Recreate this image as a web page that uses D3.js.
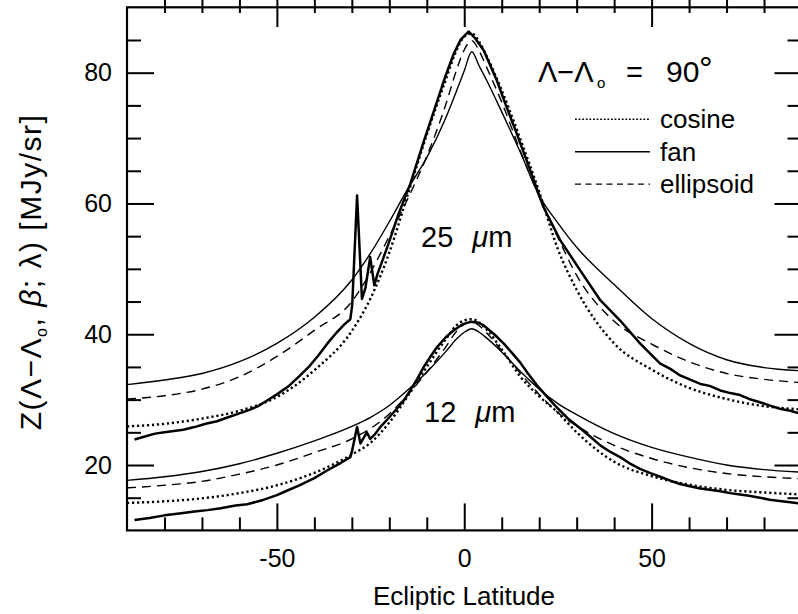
<!DOCTYPE html>
<html>
<head>
<meta charset="utf-8">
<script src="https://cdn.jsdelivr.net/npm/d3@7"></script>
<style>
  body { margin: 0; background: #fff; }
  svg { display: block; }
  text { font-family: "Liberation Sans", Arial, Helvetica, sans-serif; fill: #000; }
</style>
</head>
<body>
<div id="chart"></div>
<script>
// model curves, sampled on a common latitude grid
var latModel = [-90, -80, -70, -60, -50, -40, -30, -25, -20, -15, -10, -5, -2, 0, 2, 4, 6, 10, 15, 20, 25, 30, 40, 50, 60, 70, 80, 90];

var fan25 = [32.3, 33.0, 34.0, 35.8, 38.6, 42.6, 48.3, 52.4, 57.2, 62.3, 67.0, 73.0, 77.3, 80.3, 83.2, 81.0, 78.8, 74.0, 67.8, 61.2, 57.0, 53.3, 47.6, 42.4, 38.6, 36.1, 34.9, 34.4];
var ell25 = [30.1, 30.6, 31.6, 33.5, 36.6, 40.6, 45.0, 49.5, 55.0, 60.8, 67.2, 75.0, 80.5, 83.5, 84.9, 83.3, 80.8, 75.5, 68.0, 61.0, 54.8, 49.0, 42.0, 38.5, 35.8, 34.0, 33.1, 32.6];
var cos25 = [25.9, 26.3, 27.1, 28.3, 30.4, 34.5, 40.5, 45.5, 52.5, 61.5, 70.5, 78.8, 83.5, 85.5, 86.0, 84.7, 82.5, 77.3, 69.8, 61.8, 53.0, 46.8, 38.6, 34.6, 31.8, 30.1, 29.0, 28.5];

var fan12 = [17.65, 18.2, 19.0, 20.2, 21.8, 23.7, 25.9, 27.3, 29.1, 31.5, 34.2, 37.3, 39.3, 40.3, 40.85, 40.3, 39.4, 37.3, 34.3, 31.6, 29.4, 27.7, 24.8, 22.7, 21.2, 20.0, 19.3, 18.9];
var ell12 = [16.5, 16.9, 17.5, 18.6, 20.0, 21.9, 24.0, 25.6, 27.8, 30.8, 34.2, 38.0, 40.5, 41.5, 41.9, 41.3, 40.2, 37.5, 34.0, 30.8, 28.0, 26.0, 23.0, 21.0, 19.6, 18.7, 18.2, 17.9];
var cos12 = [14.2, 14.45, 14.9, 15.7, 16.9, 18.8, 21.6, 23.4, 26.5, 30.6, 35.0, 39.2, 41.4, 42.1, 42.3, 41.8, 40.7, 37.7, 33.5, 30.5, 28.0, 25.0, 20.5, 18.3, 17.0, 16.2, 15.8, 15.5];

// measured profiles (thick lines)
var latData25 = [-88, -85, -82.5, -80, -77.5, -75, -72, -69, -66, -63, -60, -57.5, -55, -52.5, -50, -47, -44, -41.5, -39, -36.5, -34, -32, -30.4, -29.9, -28.6, -27.3, -26.4, -25.1, -24.0, -23.1, -22, -20, -17.6, -14.4, -10.8, -8, -5, -2.8, -1, 1.2, 3, 5.2, 8.7, 11, 14, 17.6, 21.1, 25.6, 30.9, 36.3, 41.6, 46.9, 52.3, 55, 57.6, 63, 65.5, 68.3, 71, 73.6, 76, 78.9, 81, 84.2, 87, 90];
var data25 = [23.9, 24.4, 24.8, 25.0, 25.2, 25.4, 25.8, 26.3, 26.7, 27.3, 27.9, 28.4, 29.0, 29.9, 30.8, 32.0, 33.6, 35.0, 36.7, 38.6, 40.3, 41.5, 42.3, 44.5, 61.2, 45.4, 47.0, 51.8, 47.5, 49.3, 51.0, 54.2, 58.3, 63.0, 69.5, 74.3, 79.5, 82.9, 85.0, 86.3, 85.2, 83.4, 78.8, 75.2, 70.7, 65.1, 59.5, 54.4, 49.8, 45.2, 42.1, 38.6, 35.5, 34.7, 33.7, 32.4, 32.1, 31.4, 31.0, 30.7, 30.1, 29.6, 29.2, 28.6, 28.3, 27.8];

var latData12 = [-88, -84, -80, -76, -72, -68.5, -65, -61, -57.9, -54, -50, -47.2, -44, -40, -36.5, -33, -30.4, -30, -28.6, -27.7, -26, -25.1, -24, -22.4, -20, -18, -16, -14.4, -12.5, -10.8, -9, -7.3, -5, -2.8, -0.5, 1.6, 3.5, 5.1, 8, 10.5, 12.5, 14.9, 17, 19.4, 22, 24.7, 27.5, 30.5, 33.5, 36.3, 39, 41.6, 44, 46.9, 49.5, 52.3, 55, 57.6, 60.5, 63, 65.5, 68.3, 71, 73.6, 76, 78.9, 81.5, 84.2, 87, 90];
var data12 = [11.6, 11.9, 12.3, 12.6, 12.9, 13.1, 13.4, 13.8, 14.0, 14.6, 15.4, 16.1, 16.9, 18.0, 19.2, 20.3, 21.2, 22.0, 25.8, 23.3, 25.0, 24.0, 24.6, 25.8, 27.3, 28.6, 30.0, 31.4, 33.2, 35.0, 36.6, 38.0, 39.5, 40.6, 41.5, 41.9, 41.8, 41.4, 40.0, 38.6, 37.3, 35.7, 34.0, 32.2, 30.5, 28.8, 27.2, 25.8, 24.4, 23.0, 22.0, 21.2, 20.3, 19.4, 18.8, 18.2, 17.6, 17.1, 16.7, 16.4, 16.2, 16.0, 15.7, 15.5, 15.3, 15.0, 14.7, 14.5, 14.3, 14.1];

var xMajor = [-50, 0, 50],
    xMinor = [-80, -70, -60, -40, -30, -20, -10, 10, 20, 30, 40, 60, 70, 80],
    yMajor = [20, 40, 60, 80],
    yMinor = [15, 25, 30, 35, 45, 50, 55, 65, 70, 75, 85];

var legendItems = ["cosine", "fan", "ellipsoid"];

var width = 798, height = 614;

var svg = d3.select("#chart").append("svg")
    .attr("width", width)
    .attr("height", height);

var x = d3.scaleLinear().domain([-90, 90]).range([127, 801.5]),
    y = d3.scaleLinear().domain([10, 90]).range([530.4, 7.3]);

svg.append("clipPath").attr("id", "plotclip")
    .append("rect")
    .attr("x", x(-90)).attr("y", y(90))
    .attr("width", x(90) - x(-90)).attr("height", y(10) - y(90));

var styles = {
    fan: { w: 1.4, dash: null },
    ell: { w: 1.4, dash: "9,6" },
    cos: { w: 2.4, dash: "2.2,2.8" },
    data: { w: 2.5, dash: null }
};

var smooth = d3.line()
    .x(function (d) { return x(d[0]); })
    .y(function (d) { return y(d[1]); })
    .curve(d3.curveMonotoneX);

var straight = d3.line()
    .x(function (d) { return x(d[0]); })
    .y(function (d) { return y(d[1]); });

var series = [
    { lat: latModel, v: cos25, s: styles.cos, gen: smooth },
    { lat: latModel, v: ell25, s: styles.ell, gen: smooth },
    { lat: latModel, v: fan25, s: styles.fan, gen: smooth },
    { lat: latData25, v: data25, s: styles.data, gen: straight },
    { lat: latModel, v: cos12, s: styles.cos, gen: smooth },
    { lat: latModel, v: ell12, s: styles.ell, gen: smooth },
    { lat: latModel, v: fan12, s: styles.fan, gen: smooth },
    { lat: latData12, v: data12, s: styles.data, gen: straight }
];

var plot = svg.append("g").attr("clip-path", "url(#plotclip)");

plot.selectAll("path.curve")
    .data(series)
    .enter().append("path")
    .attr("class", "curve")
    .attr("fill", "none")
    .attr("stroke", "#000")
    .attr("stroke-linejoin", "round")
    .attr("stroke-width", function (d) { return d.s.w; })
    .attr("stroke-dasharray", function (d) { return d.s.dash; })
    .attr("d", function (d) {
        return d.gen(d.lat.map(function (l, i) { return [l, d.v[i]]; }));
    });

// axes: ticks point inward on all four sides
function tickAxis(axis, vals, size, labels) {
    axis.tickValues(vals).tickSize(-size);
    if (labels) axis.tickFormat(function (d) { return String(d); });
    else axis.tickFormat("");
    return axis;
}

function drawAxis(gen, tr, vals, size, labels, pad) {
    var g = svg.append("g")
        .attr("transform", tr)
        .call(tickAxis(gen, vals, size, labels).tickPadding(pad || 3));
    g.select(".domain").remove();
    g.selectAll(".tick line").attr("stroke-width", 2);
    g.attr("font-size", 25).attr("font-family", "Liberation Sans, Arial, sans-serif");
    return g;
}

var bot = "translate(0," + y(10) + ")",
    top = "translate(0," + y(90) + ")",
    lft = "translate(" + x(-90) + ",0)",
    rgt = "translate(" + x(90) + ",0)";

drawAxis(d3.axisBottom(x), bot, xMinor, 13, false);
drawAxis(d3.axisBottom(x), bot, xMajor, 27, true, 19);
drawAxis(d3.axisTop(x), top, xMinor, 13, false);
drawAxis(d3.axisTop(x), top, xMajor, 27, false);
drawAxis(d3.axisLeft(y), lft, yMinor, 14, false);
drawAxis(d3.axisLeft(y), lft, yMajor, 27, true, 15);
drawAxis(d3.axisRight(y), rgt, yMinor, 14, false);
drawAxis(d3.axisRight(y), rgt, yMajor, 27, false);

svg.append("rect")
    .attr("x", x(-90)).attr("y", y(90))
    .attr("width", x(90) - x(-90)).attr("height", y(10) - y(90))
    .attr("fill", "none").attr("stroke", "#000").attr("stroke-width", 2.2);

// axis titles
svg.append("text")
    .attr("x", 464).attr("y", 605)
    .attr("text-anchor", "middle")
    .attr("font-size", 26)
    .text("Ecliptic Latitude");

var yl = svg.append("text")
    .attr("transform", "translate(41,272) rotate(-90)")
    .attr("text-anchor", "middle")
    .attr("font-size", 30)
    .attr("letter-spacing", 1.5);
yl.append("tspan").text("Z(\u039B\u2212\u039B");
yl.append("tspan").attr("font-size", 16).attr("dy", 6).text("o");
yl.append("tspan").attr("dy", -6).text(",  ");
yl.append("tspan").attr("font-style", "italic").text("\u03B2");
yl.append("tspan").text(";  \u03BB)  [MJy/sr]");

// wavelength labels
function bandLabel(txt, px, py) {
    var t = svg.append("text").attr("x", px).attr("y", py).attr("font-size", 29);
    t.append("tspan").text(txt);
    t.append("tspan").attr("dx", 19).attr("font-style", "italic").text("\u03BC");
    t.append("tspan").text("m");
}
bandLabel("25", 421, 246.7);
bandLabel("12", 424, 421.7);

// header
svg.append("text").attr("x", 538).attr("y", 81.7).attr("font-size", 29).text("\u039B\u2212\u039B");
svg.append("text").attr("x", 597).attr("y", 87.5).attr("font-size", 15).text("o");
svg.append("text").attr("x", 626).attr("y", 81.7).attr("font-size", 29).text("=");
svg.append("text").attr("x", 666).attr("y", 81.7).attr("font-size", 30).text("90");
svg.append("text").attr("x", 699).attr("y", 80).attr("font-size", 34).text("\u00B0");

// legend
var legStyles = [
    { w: 1.6, dash: "1.8,1.8" },
    { w: 1.6, dash: null },
    { w: 1.3, dash: "6,4.5" }
];
var leg = svg.selectAll("g.leg")
    .data(legendItems)
    .enter().append("g")
    .attr("class", "leg")
    .attr("transform", function (d, i) { return "translate(0," + (119.3 + i * 32.4) + ")"; });
leg.append("line")
    .attr("x1", 575).attr("x2", 650)
    .attr("stroke", "#000")
    .attr("stroke-width", function (d, i) { return legStyles[i].w; })
    .attr("stroke-dasharray", function (d, i) { return legStyles[i].dash; });
leg.append("text")
    .attr("x", 660).attr("y", 9)
    .attr("font-size", 26)
    .text(function (d) { return d; });
</script>
</body>
</html>
